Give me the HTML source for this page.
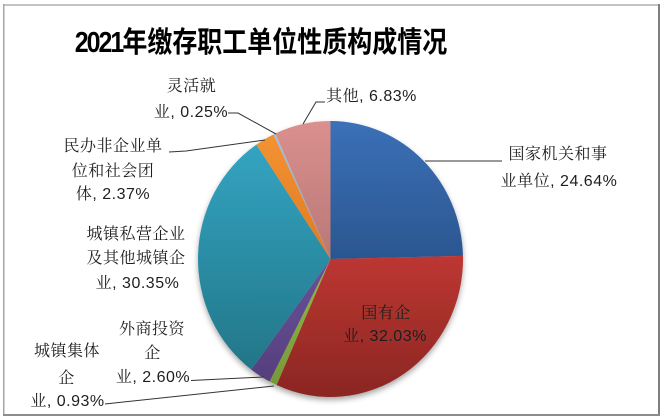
<!DOCTYPE html>
<html><head><meta charset="utf-8"><style>
html,body{margin:0;padding:0;background:#fff;}
body{width:664px;height:420px;overflow:hidden;}
svg{display:block;}
.t{font-family:"Liberation Sans","Noto Sans CJK SC",sans-serif;font-weight:bold;font-size:25px;fill:#000;}
.l{font-family:"Liberation Sans","Noto Serif CJK SC",serif;font-size:16px;fill:#1e1e1e;letter-spacing:0.5px;}
</style></head><body>
<svg width="664" height="420" viewBox="0 0 664 420" xmlns="http://www.w3.org/2000/svg">
<defs>
<linearGradient id="gB" x1="0" y1="0" x2="0" y2="1"><stop offset="0" stop-color="#3b70b7"/><stop offset="1" stop-color="#2b5690"/></linearGradient>
<linearGradient id="gR" x1="0" y1="0" x2="0" y2="1"><stop offset="0" stop-color="#bd3732"/><stop offset="1" stop-color="#8b2623"/></linearGradient>
<linearGradient id="gG" x1="0" y1="0" x2="0" y2="1"><stop offset="0" stop-color="#93bb45"/><stop offset="1" stop-color="#77983a"/></linearGradient>
<linearGradient id="gP" x1="0" y1="0" x2="0" y2="1"><stop offset="0" stop-color="#6a519a"/><stop offset="1" stop-color="#553f7d"/></linearGradient>
<linearGradient id="gT" x1="0" y1="0" x2="0" y2="1"><stop offset="0" stop-color="#33a4c1"/><stop offset="1" stop-color="#237688"/></linearGradient>
<linearGradient id="gO" x1="0" y1="0" x2="0" y2="1"><stop offset="0" stop-color="#f39233"/><stop offset="1" stop-color="#e07a22"/></linearGradient>
<linearGradient id="gL" x1="0" y1="0" x2="0" y2="1"><stop offset="0" stop-color="#a7c0df"/><stop offset="1" stop-color="#8aa6c8"/></linearGradient>
<linearGradient id="gK" x1="0" y1="0" x2="0" y2="1"><stop offset="0" stop-color="#da908e"/><stop offset="1" stop-color="#b87876"/></linearGradient>
<filter id="sh" x="-20%" y="-20%" width="140%" height="140%"><feDropShadow dx="0" dy="3" stdDeviation="3" flood-color="#000" flood-opacity="0.35"/></filter>
</defs>
<rect x="0" y="0" width="664" height="420" fill="#fff"/>
<!-- frame -->
<rect x="3" y="4" width="657" height="2" fill="#c3c3c3"/>
<rect x="3" y="4" width="1.5" height="412" fill="#a6a6a6"/>
<rect x="658" y="4" width="2" height="412" fill="#7f7f7f"/>
<rect x="3" y="414" width="657" height="2" fill="#8c8c8c"/>

<text class="t" x="261" y="52" text-anchor="middle" transform="translate(0,52) scale(1,1.15) translate(0,-52)"><tspan letter-spacing="-2">2021</tspan>年缴存职工单位性质构成情况</text>

<g filter="url(#sh)">
<path d="M330.5,259 L330.5,121 A132.5,138 0 0 1 462.97,255.88 Z" fill="url(#gB)"/>
<path d="M330.5,259 L462.97,255.88 A132.5,138 0 0 1 276.59,385.06 Z" fill="url(#gR)"/>
<path d="M330.5,259 L276.59,385.06 A132.5,138 0 0 1 269.60,381.56 Z" fill="url(#gG)"/>
<path d="M330.5,259 L269.60,381.56 A132.5,138 0 0 1 251.28,369.62 Z" fill="url(#gP)"/>
<path d="M330.5,259 L251.28,369.62 A132.5,138 0 0 1 256.37,144.62 Z" fill="url(#gT)"/>
<path d="M330.5,259 L256.37,144.62 A132.5,138 0 0 1 273.48,134.43 Z" fill="url(#gO)"/>
<path d="M330.5,259 L273.48,134.43 A132.5,138 0 0 1 275.37,133.51 Z" fill="url(#gL)"/>
<path d="M330.5,259 L275.37,133.51 A132.5,138 0 0 1 330.5,121 Z" fill="url(#gK)"/>
</g>

<!-- leader lines -->
<g fill="none" stroke="#333" stroke-width="1">
<polyline points="228,113 238,113 276,134"/>
<polyline points="325,102 316,102 303,124"/>
<polyline points="502,161 425,161"/>
<polyline points="169,152 186,151 265,140"/>
<polyline points="191,380.5 264,377"/>
<polyline points="105,404 274,386"/>
</g>

<!-- labels -->
<g class="l" text-anchor="middle">
<text x="191.5" y="91">灵活就</text>
<text x="191" y="117">业, 0.25%</text>
<text x="371.5" y="101">其他, 6.83%</text>
<text x="558" y="159">国家机关和事</text>
<text x="559" y="186">业单位, 24.64%</text>
<text x="386" y="318">国有企</text>
<text x="385" y="341">业, 32.03%</text>
<text x="113" y="151">民办非企业单</text>
<text x="113" y="176">位和社会团</text>
<text x="113" y="199">体, 2.37%</text>
<text x="136" y="239">城镇私营企业</text>
<text x="136" y="263">及其他城镇企</text>
<text x="137.5" y="288">业, 30.35%</text>
<text x="152" y="334">外商投资</text>
<text x="152.5" y="358">企</text>
<text x="153" y="382">业, 2.60%</text>
<text x="67" y="356">城镇集体</text>
<text x="66.5" y="383">企</text>
<text x="67.5" y="406">业, 0.93%</text>
</g>
</svg>
</body></html>
